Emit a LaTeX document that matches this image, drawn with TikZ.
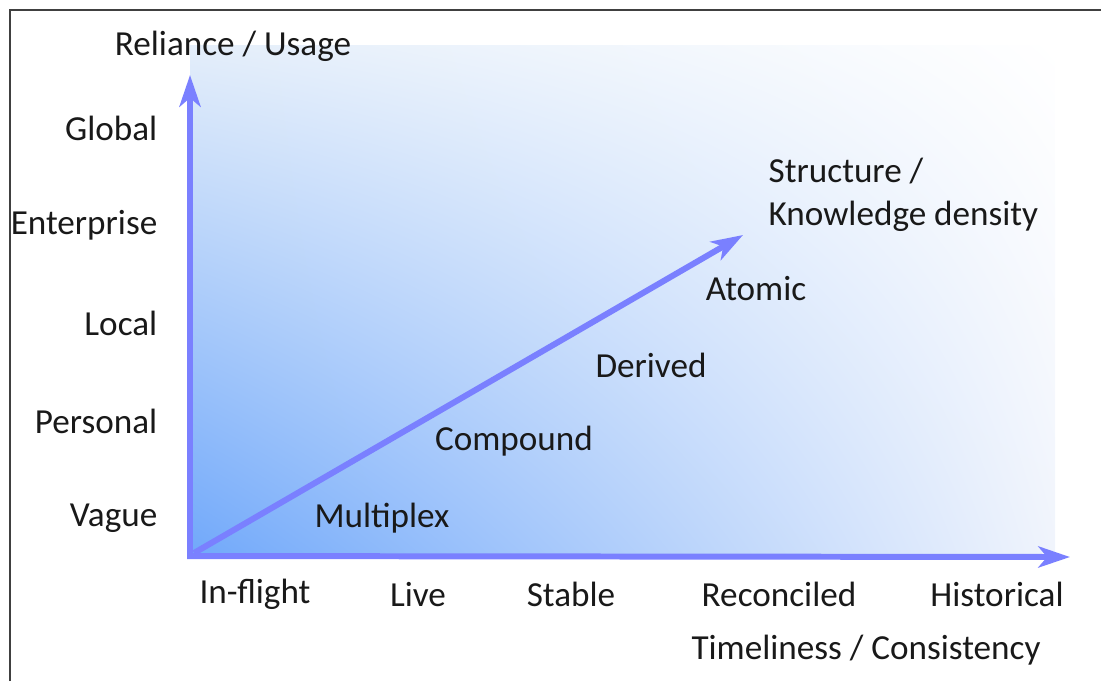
\documentclass[tikz,border=0pt]{standalone}
\usepackage{fontspec}
\setmainfont{Carlito}
\usetikzlibrary{arrows.meta,shadings}
\definecolor{axisblue}{RGB}{122,128,255}
\definecolor{deepblue}{RGB}{112,168,250}
\definecolor{paleleft}{RGB}{228,238,250}
\definecolor{paleright}{RGB}{240,244,252}
\definecolor{textgray}{RGB}{25,25,25}

\begin{document}
\begin{tikzpicture}[x=0.01cm,y=-0.01cm,
  font=\fontsize{10}{12.3}\selectfont, text=textgray,
  every node/.style={inner sep=0pt},
  axis/.style={draw=axisblue, line width=1.7pt, -{Stealth[length=9pt,width=6pt,inset=2.5pt]}}]
\useasboundingbox (0,0) rectangle (1101,681);
\draw[draw=black!75, line width=0.6pt] (10,681) -- (10,10) -- (1101,10); % frame
\shade[lower left=deepblue, upper left=paleleft, upper right=white, lower right=paleright]
  (190,45) rectangle (1055,556);

\coordinate (origin) at (190,556);
\coordinate (ytip) at (190,75);
\coordinate (xtip) at (1070,557);
\coordinate (dstart) at (194,553);
\coordinate (dtip) at (743,235);
\draw[axis] (origin) -- (ytip);
\draw[axis] ([xshift=-0.8pt]origin) -- (xtip);
\draw[axis] (dstart) -- (dtip);

\node (ytitle) at (233,46) {Reliance / Usage};
\node (xtitle) at (866,650) {Timeliness / Consistency};
\node[anchor=west, align=left] (dtitle) at (768,195) {Structure /\\Knowledge density};

\foreach \lab/\y [count=\i] in {Global/128,Enterprise/225,Local/323,Personal/421,Vague/518} % reliance levels
\node[anchor=east] (r\i) at (158,\y) {\lab};
\foreach \lab/\x [count=\i] in {In-flight/255,Live/418,Stable/571,Reconciled/779,Historical/997} % timeliness levels
\node (t\i) at (\x,594) {\lab};
\foreach \lab/\x/\y [count=\i] in {Multiplex/382/518,Compound/514/441,Derived/651/365,Atomic/756/289} % structure levels
\node (s\i) at (\x,\y) {\lab};

\end{tikzpicture}
\end{document}
